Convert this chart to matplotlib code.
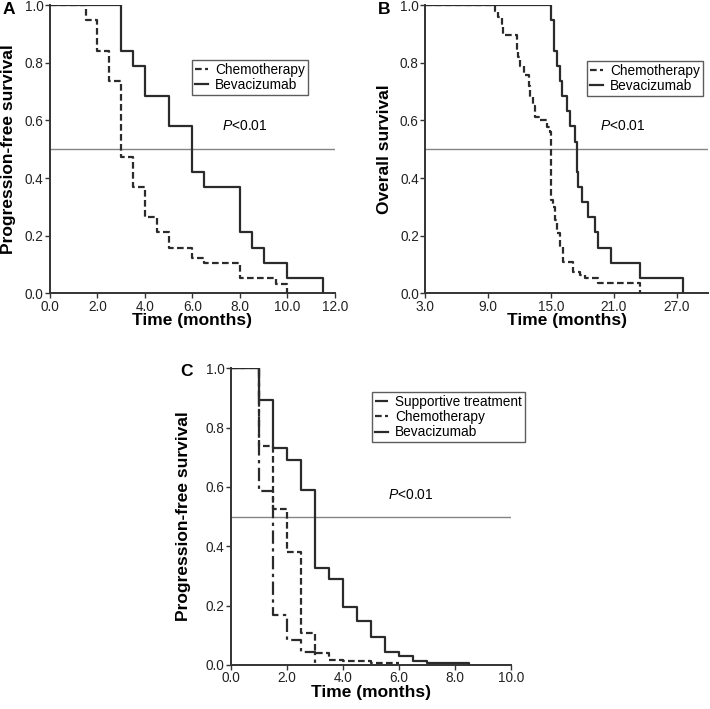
"""Kaplan-Meier style survival panels (A, B, C)."""

import matplotlib

matplotlib.use("Agg")
import matplotlib.pyplot as plt  # noqa: E402

plt.rcParams["font.family"] = ["Liberation Sans", "DejaVu Sans"]
plt.rcParams["mathtext.fontset"] = "custom"
plt.rcParams["mathtext.it"] = "Liberation Sans:italic"
plt.rcParams["mathtext.rm"] = "Liberation Sans"

# Panel A: progression-free survival
a_chemo_t = [0, 1.5, 2.0, 2.5, 3.0, 3.5, 4.0, 4.5, 5.0, 6.0, 6.5, 8.0, 9.5, 10.0]
a_chemo_s = [1.0, 0.947, 0.842, 0.737, 0.474, 0.368, 0.263, 0.211, 0.158, 0.124, 0.105, 0.053, 0.033, 0.0]
a_bev_t = [0, 3.0, 3.5, 4.0, 5.0, 6.0, 6.5, 8.0, 8.5, 9.0, 10.0, 11.5]
a_bev_s = [1.0, 0.842, 0.789, 0.684, 0.579, 0.421, 0.368, 0.211, 0.158, 0.105, 0.053, 0.0]

# Panel B: overall survival
b_chemo_t = [3.0, 9.45, 9.67, 9.96, 10.3, 10.45, 11.74, 11.9, 12.06, 12.44, 12.94, 13.0, 13.27,
             13.5, 13.96, 14.6, 14.9, 15.06, 15.23, 15.4, 15.55, 15.87, 16.18, 17.14, 17.78,
             18.25, 19.52, 23.5]
b_chemo_s = [1.0, 1.0, 0.98, 0.96, 0.93, 0.896, 0.844, 0.82, 0.79, 0.757, 0.72, 0.68, 0.65,
             0.61, 0.60, 0.578, 0.56, 0.324, 0.30, 0.254, 0.209, 0.162, 0.108, 0.075, 0.065,
             0.052, 0.035, 0.0]
b_bev_t = [3.0, 15.0, 15.33, 15.6, 15.87, 16.1, 16.5, 16.8, 17.3, 17.46, 17.6, 18.0, 18.55,
           19.2, 19.5, 20.7, 23.5, 27.6]
b_bev_s = [1.0, 0.947, 0.842, 0.789, 0.737, 0.684, 0.632, 0.579, 0.526, 0.421, 0.368, 0.316,
           0.263, 0.211, 0.158, 0.105, 0.053, 0.0]

# Panel C: progression-free survival, three arms
c_supp_t = [0, 1.0, 1.5, 2.0, 2.5, 3.0]
c_supp_s = [1.0, 0.585, 0.168, 0.085, 0.044, 0.0]
c_chemo_t = [0, 1.0, 1.5, 2.0, 2.5, 3.0, 3.5, 4.0, 5.0, 6.0]
c_chemo_s = [1.0, 0.737, 0.526, 0.38, 0.107, 0.042, 0.017, 0.012, 0.005, 0.005]
c_bev_t = [0, 1.0, 1.5, 2.0, 2.5, 3.0, 3.5, 4.0, 4.5, 5.0, 5.5, 6.0, 6.5, 7.0, 8.5]
c_bev_s = [1.0, 0.893, 0.73, 0.691, 0.59, 0.326, 0.289, 0.194, 0.148, 0.093, 0.045, 0.03,
           0.015, 0.007, 0.0]

yticks = [0.0, 0.2, 0.4, 0.6, 0.8, 1.0]

CURVE = "#2b2b2b"
DASH = (0, (3.0, 1.5))
DASHDOT = (0, (6, 2, 1.5, 2))


def style_axes(ax, xlim, xticks, ylabel, ycoord, xcoord):
    for side in ("top", "right"):
        ax.spines[side].set_visible(False)
    for side in ("left", "bottom"):
        ax.spines[side].set_linewidth(1.4)
        ax.spines[side].set_color("#333333")
    ax.set_xlim(*xlim)
    ax.set_ylim(0, 1.0)
    ax.set_xticks(xticks)
    ax.set_xticklabels([f"{t:.1f}" for t in xticks])
    ax.set_yticks(yticks)
    ax.set_yticklabels([f"{t:.1f}" for t in yticks])
    ax.tick_params(direction="out", length=3.5, width=1.0, labelsize=9.8, pad=1.0,
                   color="#333333", labelcolor="#222222")
    ax.axhline(0.5, color="#858585", linewidth=1.0, zorder=1)
    ax.set_xlabel("Time (months)", fontsize=12.5, fontweight="bold")
    ax.set_ylabel(ylabel, fontsize=12.5, fontweight="bold")
    ax.yaxis.set_label_coords(ycoord, 0.5)
    ax.xaxis.set_label_coords(0.5, xcoord)


def km(ax, t, s, ls, label):
    ax.step(t, s, where="post", color=CURVE, linewidth=1.6, linestyle=ls, label=label, zorder=3)


def legend(ax, x, y):
    leg = ax.legend(loc="upper left", bbox_to_anchor=(x, y), borderaxespad=0, fontsize=9.8,
                    frameon=True, fancybox=False, handlelength=1.0, handletextpad=0.5,
                    borderpad=0.2, labelspacing=0.1)
    leg.get_frame().set_edgecolor("#333333")
    leg.get_frame().set_linewidth(1.0)


fig = plt.figure(figsize=(7.10, 7.09), dpi=100)

# A
ax = fig.add_axes([0.0704, 0.5863, 0.4014, 0.4066])
km(ax, a_chemo_t, a_chemo_s, DASH, "Chemotherapy")
km(ax, a_bev_t, a_bev_s, "-", "Bevacizumab")
style_axes(ax, (0, 12), [0, 2, 4, 6, 8, 10, 12], "Progression-free survival", -0.119, -0.07)
legend(ax, 0.498, 0.809)
ax.text(0.604, 0.58, "$P$<0.01", transform=ax.transAxes, fontsize=10, va="center")
fig.text(0.003, 0.997, "A", fontsize=12.5, fontweight="bold", va="top")

# B
ax = fig.add_axes([0.5986, 0.5863, 0.3986, 0.4066])
km(ax, b_chemo_t, b_chemo_s, DASH, "Chemotherapy")
km(ax, b_bev_t, b_bev_s, "-", "Bevacizumab")
style_axes(ax, (3, 30), [3, 9, 15, 21, 27], "Overall survival", -0.117, -0.07)
legend(ax, 0.572, 0.806)
ax.text(0.618, 0.579, "$P$<0.01", transform=ax.transAxes, fontsize=10, va="center")
fig.text(0.532, 0.997, "B", fontsize=12.5, fontweight="bold", va="top")

# C
ax = fig.add_axes([0.325, 0.0621, 0.3944, 0.4185])
km(ax, c_supp_t, c_supp_s, DASHDOT, "Supportive treatment")
km(ax, c_chemo_t, c_chemo_s, DASH, "Chemotherapy")
km(ax, c_bev_t, c_bev_s, "-", "Bevacizumab")
style_axes(ax, (0, 10), [0, 2, 4, 6, 8, 10], "Progression-free survival", -0.142, -0.068)
legend(ax, 0.505, 0.92)
ax.text(0.562, 0.573, "$P$<0.01", transform=ax.transAxes, fontsize=10, va="center")
fig.text(0.2535, 0.486, "C", fontsize=12.5, fontweight="bold", va="top")

fig.savefig("out.png", dpi=100)
plt.close(fig)
